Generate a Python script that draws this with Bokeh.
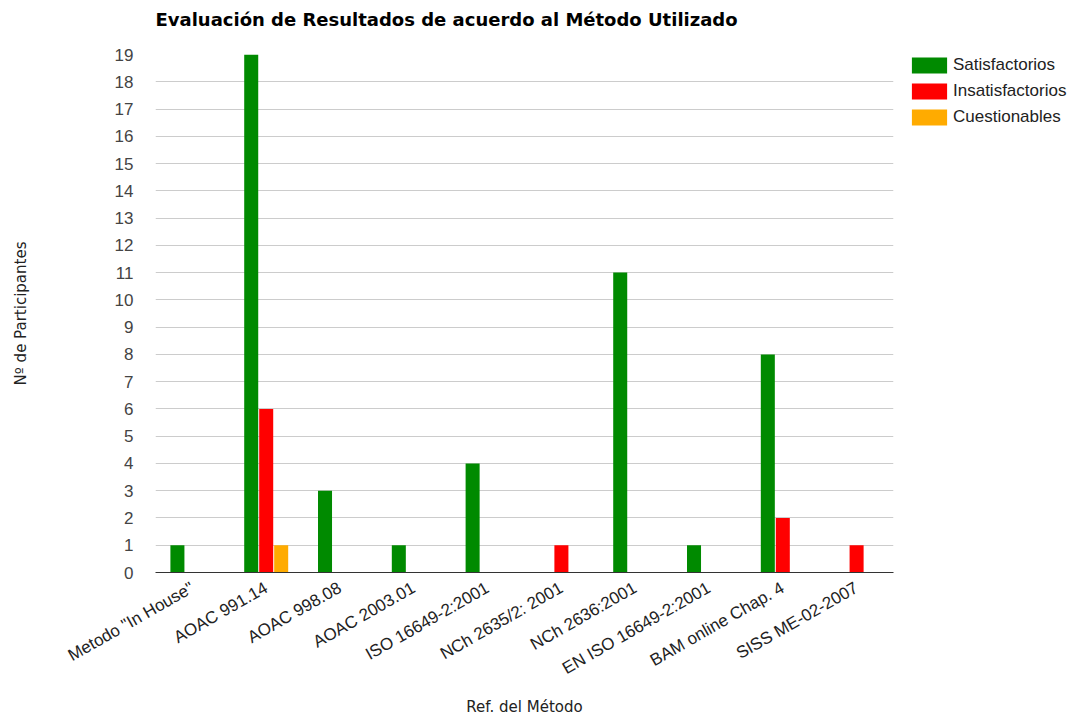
from bokeh.plotting import figure
from bokeh.models import (ColumnDataSource, FactorRange, Legend, LegendItem,
                          SingleIntervalTicker, Title)
from bokeh.transform import dodge
from bokeh.embed import file_html
from bokeh.resources import INLINE

# Methods evaluated and participant counts per outcome
methods = ['Metodo "In House"', "AOAC 991.14", "AOAC 998.08", "AOAC 2003.01",
           "ISO 16649-2:2001", "NCh 2635/2: 2001", "NCh 2636:2001",
           "EN ISO 16649-2:2001", "BAM online Chap. 4", "SISS ME-02-2007"]
satisfactorios = [1, 19, 3, 1, 4, 0, 11, 1, 8, 0]
insatisfactorios = [0, 6, 0, 0, 0, 1, 0, 0, 2, 1]
cuestionables = [0, 1, 0, 0, 0, 0, 0, 0, 0, 0]

series_names = ["Satisfactorios", "Insatisfactorios", "Cuestionables"]
series_colors = ["#008a00", "#ff0000", "#ffab00"]

source = ColumnDataSource(dict(method=methods, sat=satisfactorios,
                               insat=insatisfactorios, cuest=cuestionables))

FRAME_W, FRAME_H = 738, 518

p = figure(x_range=FactorRange(*methods, range_padding=0), y_range=(0, 19),
           frame_width=FRAME_W, frame_height=FRAME_H, title=None,
           output_backend="svg", toolbar_location=None,
           min_border_left=155, min_border_right=176, min_border_top=0,
           min_border_bottom=142)

renderers = []
for col, off, color in zip(["sat", "insat", "cuest"], [-0.203, 0.0, 0.203], series_colors):
    r = p.vbar(x=dodge("method", off, range=p.x_range), top=col, width=0.19,
               source=source, fill_color=color, line_color=None)
    renderers.append(r)

# Legend in the right-hand panel, offset a little from the plotting area
# (bar swatches are inset 10% on each side, hence the larger glyph box)
legend = Legend(items=[LegendItem(label=n, renderers=[r]) for n, r in zip(series_names, renderers)],
                location=(14, 445), orientation="vertical")
legend.glyph_width = 44
legend.glyph_height = 20
legend.label_height = 20
legend.label_text_font = "Liberation Sans"
legend.label_text_font_size = "17px"
legend.label_text_color = "#222222"
legend.spacing = 6
legend.padding = 0
legend.margin = 0
legend.border_line_color = None
legend.background_fill_alpha = 0
legend.label_standoff = 2
p.add_layout(legend, "right")

# Gap between the title and the plotting area
p.add_layout(Title(text=" ", text_font_size="1px", standoff=12), "above")

# Chart title
p.add_layout(Title(text="Evaluación de Resultados de acuerdo al Método Utilizado",
                   text_font="DejaVu Sans", text_font_style="bold",
                   text_font_size="18px", text_color="#000000",
                   vertical_align="top", offset=0, standoff=16), "above")

# Axes
p.yaxis.ticker = SingleIntervalTicker(interval=1)
p.yaxis.axis_line_color = None
p.yaxis.major_tick_line_color = None
p.yaxis.minor_tick_line_color = None
p.yaxis.major_label_text_font = "Liberation Sans"
p.yaxis.major_label_text_font_size = "17px"
p.yaxis.major_label_text_color = "#444444"
p.yaxis.major_label_standoff = 16
p.yaxis.axis_label = "Nº de Participantes"
p.yaxis.axis_label_text_font = "DejaVu Sans"
p.yaxis.axis_label_text_font_style = "normal"
p.yaxis.axis_label_text_font_size = "15px"
p.yaxis.axis_label_text_color = "#222222"
p.yaxis.axis_label_standoff = 82

p.xaxis.axis_line_color = "#333333"
p.xaxis.major_tick_line_color = None
p.xaxis.minor_tick_line_color = None
p.xaxis.major_label_orientation = 0.52
p.xaxis.major_label_text_font = "Liberation Sans"
p.xaxis.major_label_text_font_size = "17px"
p.xaxis.major_label_text_color = "#222222"
p.xaxis.major_label_standoff = 8
p.xaxis.axis_label = "Ref. del Método"
p.xaxis.axis_label_text_font = "DejaVu Sans"
p.xaxis.axis_label_text_font_style = "normal"
p.xaxis.axis_label_text_font_size = "15px"
p.xaxis.axis_label_text_color = "#222222"
p.xaxis.axis_label_standoff = 9

p.xgrid.grid_line_color = None
p.ygrid.grid_line_color = "#cccccc"
p.outline_line_color = None

open("out.html", "w").write(file_html(p, INLINE))
